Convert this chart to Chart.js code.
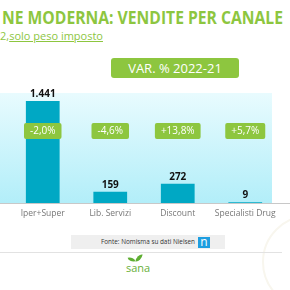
<!DOCTYPE html>
<html><head><meta charset="utf-8">
<script src="https://cdn.jsdelivr.net/npm/chart.js@4"></script>
<style>
html,body{margin:0;padding:0;background:#fff;width:290px;height:290px;overflow:hidden;font-family:"Open Sans",sans-serif;}
#wrap{position:relative;width:290px;height:290px;}
.abs{position:absolute;}
#title{left:2px;top:6px;font-weight:700;font-size:17px;color:#8dc63f;white-space:nowrap;transform-origin:0 0;}
#sub{left:0px;top:28px;font-size:11px;color:#8dc63f;white-space:nowrap;}
#sub span{text-decoration:underline;}
#var{left:111px;top:58px;width:128px;height:20px;background:#8dc63f;border-radius:3px;color:#fff;font-size:13px;line-height:20px;text-align:center;}
#chartbox{left:0;top:80px;width:290px;height:145px;}
#line2{left:0;top:252px;width:282px;height:1px;background:#e2e2e2;}
#fonte{left:71px;top:235px;width:154px;height:14px;background:#efefef;}
#fonte .t{position:absolute;left:30px;top:2px;font-size:7px;line-height:10px;color:#333;white-space:nowrap;transform-origin:0 0;}
#nlogo{left:198px;top:237px;width:12px;height:11px;background:#1e9ee0;color:#fff;font-size:12px;line-height:9px;text-align:center;}
#sana{left:126px;top:260px;font-size:11px;color:#68b03a;}
.leaf{position:absolute;background:#5fae33;border-radius:0 100% 0 100%;}
#arc{left:262px;top:215px;width:90px;height:90px;border:2px solid #f8f6ee;border-radius:50%;}
</style></head>
<body><div id="wrap">
<div id="arc" class="abs"></div>
<div id="title" class="abs" data-fit="281">NE MODERNA: VENDITE PER CANALE</div>
<div id="sub" class="abs">2,<span>solo peso imposto</span></div>
<div id="var" class="abs">VAR. % 2022-21</div>
<div id="chartbox" class="abs"><canvas id="c"></canvas></div>
<div id="line2" class="abs"></div>
<div id="fonte" class="abs"><div class="t" data-fit="94">Fonte: Nomisma su dati Nielsen</div></div>
<div id="nlogo" class="abs">n</div>
<div class="leaf" style="left:128px;top:257px;width:7px;height:5px;transform:rotate(-10deg);"></div>
<div class="leaf" style="left:135px;top:255px;width:8px;height:6px;transform:rotate(-80deg);"></div>
<div id="sana" class="abs">sana</div>
</div>
<script>
const categories = ['Iper+Super', 'Lib. Servizi', 'Discount', 'Specialisti Drug'];
const sales = [1441, 159, 272, 9];
const varPct = [-2.0, -4.6, 13.8, 5.7];

document.querySelectorAll('[data-fit]').forEach(el => {
  const target = parseFloat(el.dataset.fit);
  const w = el.getBoundingClientRect().width;
  if (w > 0) el.style.transform = 'scaleX(' + (target / w) + ')';
});

function fmtInt(v){ return String(v).replace(/\B(?=(\d{3})+(?!\d))/g, '.'); }
function fmtPct(v){ return (v > 0 ? '+' : '') + v.toFixed(1).replace('.', ',') + '%'; }

const decor = {
  id: 'decor',
  beforeDraw(chart){
    const ctx = chart.ctx, ca = chart.chartArea;
    ctx.save();
    const g = ctx.createLinearGradient(0, ca.top, 0, ca.bottom);
    g.addColorStop(0, '#e8fbfe');
    g.addColorStop(1, '#b2eef9');
    ctx.fillStyle = g;
    ctx.fillRect(0, ca.top, 272, ca.bottom - ca.top);
    ctx.restore();
  },
  afterDatasetsDraw(chart){
    const ctx = chart.ctx, ca = chart.chartArea;
    const meta = chart.getDatasetMeta(0);
    ctx.save();
    ctx.strokeStyle = '#c8c8c8'; ctx.lineWidth = 1;
    ctx.beginPath(); ctx.moveTo(0, ca.bottom + 0.5); ctx.lineTo(chart.width, ca.bottom + 0.5); ctx.stroke();
    ctx.fillStyle = '#111';
    ctx.font = 'bold 10px "Open Sans", sans-serif';
    ctx.textAlign = 'center'; ctx.textBaseline = 'bottom';
    meta.data.forEach((bar, i) => {
      ctx.fillText(fmtInt(sales[i]), bar.x, bar.y - 2);
    });
    ctx.font = '10px "Open Sans", sans-serif';
    ctx.textBaseline = 'middle';
    const yc = ca.top + 38;
    meta.data.forEach((bar, i) => {
      const t = fmtPct(varPct[i]);
      const w = ctx.measureText(t).width + 12;
      ctx.fillStyle = '#8dc63f';
      ctx.beginPath();
      ctx.roundRect(bar.x - w/2, yc - 8, w, 16, 2);
      ctx.fill();
      ctx.fillStyle = '#fff';
      ctx.fillText(t, bar.x, yc + 0.5);
    });
    ctx.restore();
  }
};

new Chart(document.getElementById('c'), {
  type: 'bar',
  data: { labels: categories, datasets: [{ data: sales, backgroundColor: '#00a8c4', barPercentage: 0.5, categoryPercentage: 1 }] },
  options: {
    responsive: true, maintainAspectRatio: false, animation: false,
    layout: { padding: { left: 9, right: 11, top: 13, bottom: 0 } },
    plugins: { legend: { display: false }, tooltip: { enabled: false } },
    scales: {
      x: {
        grid: { display: false, drawTicks: false },
        border: { display: false },
        ticks: { color: '#777', font: { family: '"Open Sans", sans-serif', size: 8.5 }, padding: 5, maxRotation: 0, autoSkip: false },
        afterFit(s){ s.height = 22; }
      },
      y: { display: false, min: 0, max: 1554 }
    }
  },
  plugins: [decor]
});
</script>
</body></html>
